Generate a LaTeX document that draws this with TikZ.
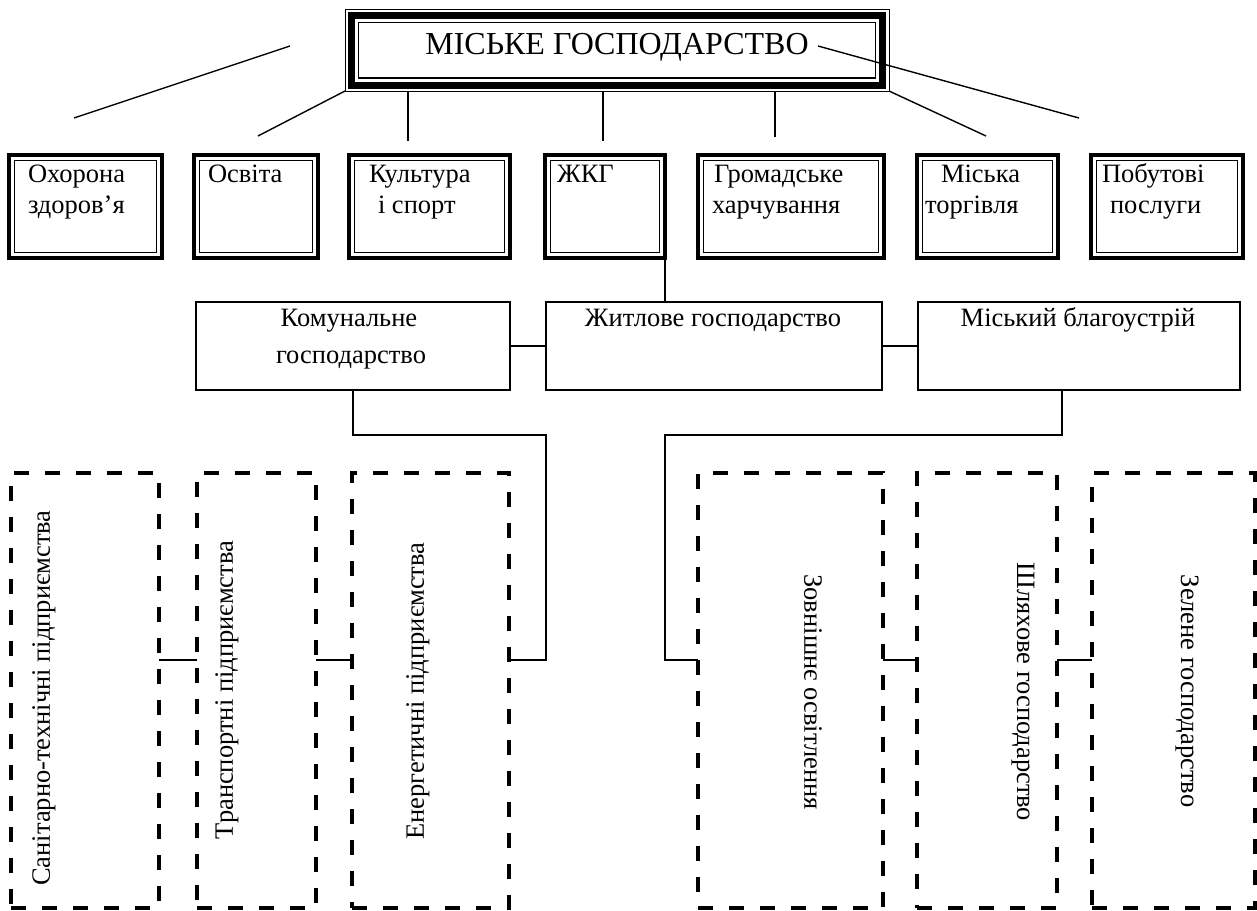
\documentclass[tikz,border=0pt]{standalone}
\usepackage{fontspec}
\setmainfont{Liberation Serif}
\usetikzlibrary{calc}

\tikzset{
  every node/.style={inner sep=0pt, outer sep=0pt},
  txt/.style={font=\fontsize{26.5}{31}\selectfont},
  ttl/.style={font=\fontsize{32}{38}\selectfont},
  % double frame: thick outer line with a thin one just inside
  rowbox/.style={draw, line width=3.2pt,
    path picture={\draw[line width=1.2pt]
      ([shift={(5.5pt,-5.5pt)}]path picture bounding box.north west) rectangle
      ([shift={(-5.5pt,5.5pt)}]path picture bounding box.south east);}},
  midbox/.style={draw, line width=2pt},
  dashbox/.style={draw, line width=4.5pt, dash pattern=on 15pt off 16pt},
  conn/.style={line width=1.8pt},
  ray/.style={line width=1.4pt},
  % thin-thick-thin frame of the heading
  headbox/.style={draw, line width=1pt,
    path picture={
      \draw[line width=7pt]
        ([shift={(6.5pt,-6.5pt)}]path picture bounding box.north west) rectangle
        ([shift={(-6.5pt,6pt)}]path picture bounding box.south east);
      \draw[line width=1.2pt]
        ([shift={(13.5pt,-13.5pt)}]path picture bounding box.north west) rectangle
        ([shift={(-13.5pt,13pt)}]path picture bounding box.south east);}}
}

\begin{document}
\begin{tikzpicture}[x=1pt,y=-1pt]
\useasboundingbox (0,0) rectangle (1257,910);

% heading
\node[headbox, minimum width=544pt, minimum height=82pt] (city) at (617,50) {};
\node[ttl, anchor=base] (citytxt) at (617,54) {МІСЬКЕ ГОСПОДАРСТВО};

% first level
\node[rowbox, minimum width=153pt, minimum height=103pt] (b1) at (85.5,206.5) {};
\node[rowbox, minimum width=124pt, minimum height=103pt] (b2) at (256,206.5) {};
\node[rowbox, minimum width=161pt, minimum height=103pt] (b3) at (429.5,206.5) {};
\node[rowbox, minimum width=120pt, minimum height=103pt] (b4) at (605,206.5) {};
\node[rowbox, minimum width=186pt, minimum height=103pt] (b5) at (791,206.5) {};
\node[rowbox, minimum width=141pt, minimum height=103pt] (b6) at (987.5,206.5) {};
\node[rowbox, minimum width=152pt, minimum height=103pt] (b7) at (1167,206.5) {};

\node[txt, anchor=base west] (t1a) at (28,182) {Охорона};
\node[txt, anchor=base west] (t1b) at (28,213) {здоров’я};
\node[txt, anchor=base west] (t2a) at (208,182) {Освіта};
\node[txt, anchor=base west] (t3a) at (369,182) {Культура};
\node[txt, anchor=base west] (t3b) at (378,213) {і спорт};
\node[txt, anchor=base west] (t4a) at (557,182) {ЖКГ};
\node[txt, anchor=base west] (t5a) at (714,182) {Громадське};
\node[txt, anchor=base west] (t5b) at (712,213) {харчування};
\node[txt, anchor=base west] (t6a) at (941,182) {Міська};
\node[txt, anchor=base west] (t6b) at (925,213) {торгівля};
\node[txt, anchor=base west] (t7a) at (1102,182) {Побутові};
\node[txt, anchor=base west] (t7b) at (1110,213) {послуги};

% rays from the heading
\coordinate (la) at (290,46);
\coordinate (lb) at (74,118);
\coordinate (lc) at (258,136);
\coordinate (v1) at (408,141);
\coordinate (v2) at (603,141);
\coordinate (v3) at (775,137);
\coordinate (rc) at (986,136);
\coordinate (ra) at (818,46);
\coordinate (rb) at (1079,118);
\draw[ray] (la) -- (lb);
\draw[ray] (city.south west) -- (lc);
\draw[ray] (v1 |- city.south) -- (v1);
\draw[ray] (v2 |- city.south) -- (v2);
\draw[ray] (v3 |- city.south) -- (v3);
\draw[ray] (city.south east) -- (rc);
\draw[ray] (ra) -- (rb);

% second level
\node[midbox, minimum width=314pt, minimum height=88pt] (kom) at (353,346) {};
\node[midbox, minimum width=336pt, minimum height=88pt] (zhit) at (714,346) {};
\node[midbox, minimum width=322pt, minimum height=88pt] (misk) at (1079,346) {};

\node[txt, anchor=base] (komtxt) at (349,326) {Комунальне};
\node[txt, anchor=base] (komtxt2) at (351,363) {господарство};
\node[txt, anchor=base] (zhittxt) at (713,326) {Житлове господарство};
\node[txt, anchor=base] (misktxt) at (1078,326) {Міський благоустрій};

\draw[conn] (kom.east) -- (zhit.west);
\draw[conn] (zhit.east) -- (misk.west);
\draw[conn] (b4.south east) -- (b4.south east |- zhit.north);

% third level
\node[dashbox, minimum width=148pt, minimum height=435pt] (d1) at (85,690.5) {};
\node[dashbox, minimum width=119pt, minimum height=435pt] (d2) at (256.5,690.5) {};
\node[dashbox, minimum width=157pt, minimum height=435pt] (d3) at (430.5,690.5) {};
\node[dashbox, minimum width=185pt, minimum height=435pt] (d4) at (790.5,690.5) {};
\node[dashbox, minimum width=140pt, minimum height=435pt] (d5) at (987,690.5) {};
\node[dashbox, minimum width=163pt, minimum height=435pt] (d6) at (1173.5,690.5) {};

\node[txt, rotate=90] (d1t) at (44,698) {Санітарно-технічні підприємства};
\node[txt, rotate=90] (d2t) at (227,690) {Транспортні підприємства};
\node[txt, rotate=90] (d3t) at (418,691) {Енергетичні підприємства};
\node[txt, rotate=-90] (d4t) at (813,692) {Зовнішнє освітлення};
\node[txt, rotate=-90] (d5t) at (1023,692) {Шляхове господарство};
\node[txt, rotate=-90] (d6t) at (1187,691) {Зелене господарство};

% links down to the third level
\coordinate (hy) at (0,435);
\coordinate (jy) at (0,660);
\draw[conn] (kom.south) -- (kom.south |- hy) -- (zhit.west |- hy)
  -- (zhit.west |- jy) -- (d3.east |- jy);
\draw[conn] ([xshift=-17pt]misk.south) -- ([xshift=-17pt]misk.south |- hy)
  -- (b4.south east |- hy) -- (b4.south east |- jy) -- (d4.west |- jy);
\draw[conn] (d1.east |- jy) -- (d2.west |- jy);
\draw[conn] (d2.east |- jy) -- (d3.west |- jy);
\draw[conn] (d4.east |- jy) -- (d5.west |- jy);
\draw[conn] (d5.east |- jy) -- (d6.west |- jy);
\end{tikzpicture}
\end{document}
